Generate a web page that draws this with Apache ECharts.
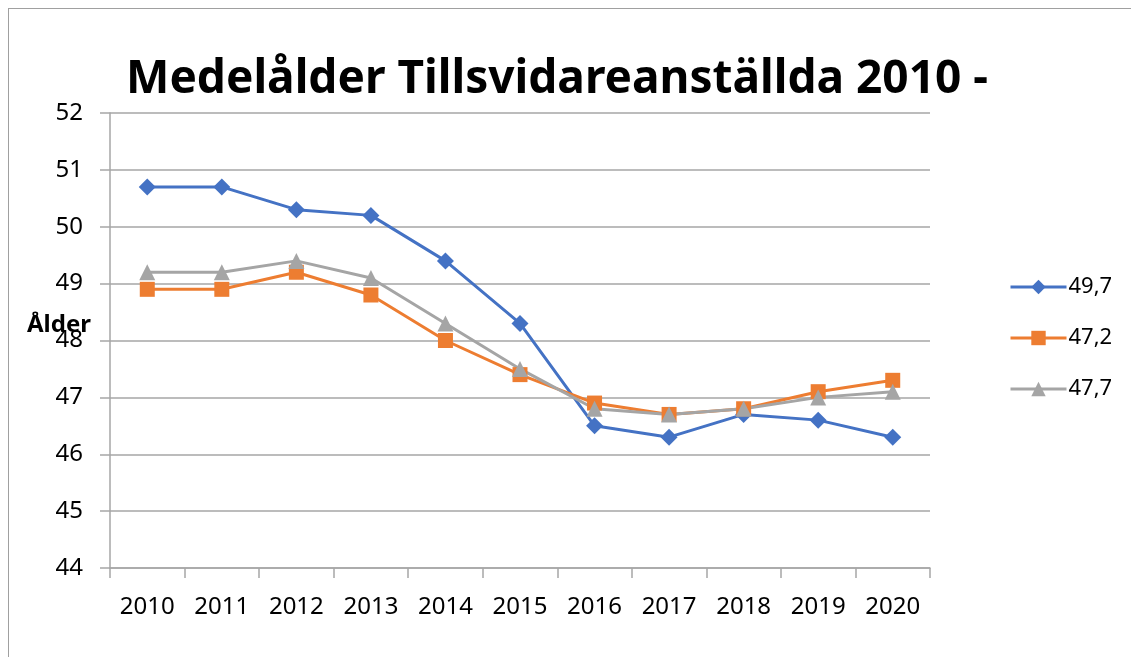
<!DOCTYPE html>
<html>
<head>
<meta charset="utf-8">
<script src="https://cdn.jsdelivr.net/npm/echarts@6/dist/echarts.min.js"></script>
<style>
  html, body { margin: 0; padding: 0; background: #fff; }
  #frame { position: absolute; left: 8px; top: 8px; width: 1140px; height: 660px; border: 1px solid #a0a0a0; box-sizing: border-box; }
  #chart { position: absolute; left: 0; top: 0; width: 1131px; height: 657px; }
</style>
</head>
<body>
<div id="frame"></div>
<div id="chart"></div>
<script>
// Average age of permanent employees, per year
const years = ['2010', '2011', '2012', '2013', '2014', '2015', '2016', '2017', '2018', '2019', '2020'];
const seriesNames = ['49,7', '47,2', '47,7'];
const seriesA = [50.7, 50.7, 50.3, 50.2, 49.4, 48.3, 46.5, 46.3, 46.7, 46.6, 46.3];
const seriesB = [48.9, 48.9, 49.2, 48.8, 48.0, 47.4, 46.9, 46.7, 46.8, 47.1, 47.3];
const seriesC = [49.2, 49.2, 49.4, 49.1, 48.3, 47.5, 46.8, 46.7, 46.8, 47.0, 47.1];

const font = '"Noto Sans", "Open Sans", sans-serif';
const colors = ['#4472C4', '#ED7D31', '#A5A5A5'];
const symbols = ['diamond', 'rect', 'triangle'];
const symbolSizes = [17, 15, 16];
const values = [seriesA, seriesB, seriesC];

const chart = echarts.init(document.getElementById('chart'), null, { renderer: 'canvas' });
chart.setOption({
  animation: false,
  backgroundColor: 'transparent',
  title: {
    text: 'Medelålder Tillsvidareanställda 2010 -',
    left: 552, top: 52, textAlign: 'center',
    textStyle: { fontFamily: font, fontWeight: 'bold', fontSize: 46, color: '#000' }
  },
  graphic: [{
    type: 'text', left: 27, top: 313,
    style: { text: 'Ålder', fontFamily: font, fontWeight: 'bold', fontSize: 24, fill: '#000' }
  }],
  legend: {
    orient: 'vertical', left: 1004, top: 271,
    itemWidth: 56, itemHeight: 18, itemGap: 29,
    lineStyle: { width: 3 },
    textStyle: { fontFamily: font, fontSize: 22, color: '#000', padding: [0, 0, 0, -3] },
    data: seriesNames
  },
  grid: { left: 110, right: 201, top: 113, bottom: 89, containLabel: false },
  xAxis: {
    type: 'category', data: years, boundaryGap: true,
    axisLine: { lineStyle: { color: '#a6a6a6', width: 1.5 } },
    axisTick: { show: true, length: 10, lineStyle: { color: '#a6a6a6', width: 1.5 } },
    axisLabel: { margin: 27, fontFamily: font, fontSize: 24, color: '#000' }
  },
  yAxis: {
    type: 'value', min: 44, max: 52, interval: 1,
    axisLine: { show: true, lineStyle: { color: '#a6a6a6', width: 1.5 } },
    axisTick: { show: true, length: 10, lineStyle: { color: '#a6a6a6', width: 1.5 } },
    splitLine: { lineStyle: { color: '#a6a6a6', width: 1.5 } },
    axisLabel: { margin: 27, fontFamily: font, fontSize: 24, color: '#000' }
  },
  series: seriesNames.map((name, i) => ({
    name: name, type: 'line', data: values[i],
    symbol: symbols[i], symbolSize: symbolSizes[i], showAllSymbol: true,
    lineStyle: { color: colors[i], width: 3 },
    itemStyle: { color: colors[i] }
  }))
});
</script>
</body>
</html>
